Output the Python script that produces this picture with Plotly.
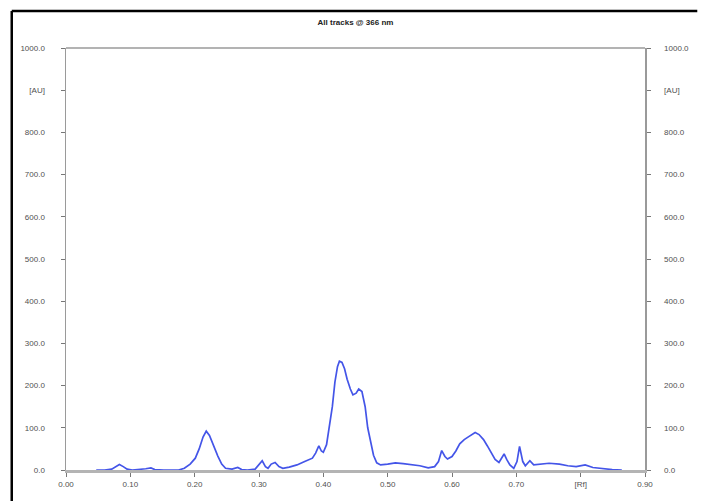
import plotly.graph_objects as go

# ---- data ----
rf = [0.047, 0.060, 0.071, 0.077, 0.083, 0.089, 0.095, 0.103, 0.113, 0.124, 0.132, 0.138,
      0.152, 0.175, 0.184, 0.193, 0.201, 0.207, 0.213, 0.218, 0.223, 0.230, 0.236, 0.242,
      0.248, 0.258, 0.267, 0.273, 0.282, 0.294, 0.300, 0.305, 0.310, 0.314, 0.319, 0.325,
      0.331, 0.337, 0.347, 0.359, 0.371, 0.383, 0.388, 0.393, 0.397, 0.400, 0.405, 0.409,
      0.414, 0.418, 0.422, 0.425, 0.429, 0.433, 0.437, 0.442, 0.446, 0.451, 0.455, 0.460,
      0.465, 0.469, 0.474, 0.478, 0.483, 0.489, 0.500, 0.512, 0.524, 0.537, 0.550, 0.563,
      0.573, 0.579, 0.584, 0.589, 0.593, 0.600, 0.606, 0.612, 0.619, 0.626, 0.632, 0.636,
      0.642, 0.649, 0.655, 0.661, 0.667, 0.673, 0.678, 0.681, 0.685, 0.690, 0.696, 0.701,
      0.705, 0.710, 0.714, 0.721, 0.727, 0.739, 0.751, 0.767, 0.780, 0.793, 0.807, 0.819,
      0.834, 0.849, 0.864]
au = [0, 0, 2, 8, 13, 8, 2, 0, 1, 3, 5, 1,
      0, 0, 4, 14, 28, 50, 78, 92, 82, 55, 33, 14,
      4, 2, 6, 1, 0, 2, 12, 22, 8, 4, 14, 18,
      8, 4, 7, 12, 20, 28, 40, 57, 45, 42, 60, 97,
      150, 208, 245, 258, 255, 240, 215, 192, 178, 182, 192, 186,
      150, 100, 60, 35, 17, 12, 14, 17, 15, 12, 10, 5,
      8, 20, 46, 32, 26, 32, 45, 62, 72, 79, 86, 89,
      84, 72, 57, 40, 25, 18, 30, 38, 25, 12, 4, 20,
      56, 20, 10, 22, 12, 14, 16, 14, 10, 8, 12, 6,
      3, 1, 0]

x_tickvals = [0.0, 0.1, 0.2, 0.3, 0.4, 0.5, 0.6, 0.7, 0.8, 0.9]
x_ticktext = ["0.00", "0.10", "0.20", "0.30", "0.40", "0.50", "0.60", "0.70", "[Rf]", "0.90"]
y_tickvals = [0, 100, 200, 300, 400, 500, 600, 700, 800, 900, 1000]
y_ticktext = ["0.0", "100.0", "200.0", "300.0", "400.0", "500.0", "600.0", "700.0",
              "800.0", "[AU]", "1000.0"]
title_text = "All tracks @ 366 nm"

# ---- layout geometry (pixels) ----
W, H = 701, 501
L, R, T, B = 66, 48, 48, 30
pw, ph = W - L - R, H - T - B

def px_x(p):
    return (p - L) / pw

def px_y(p):
    return (H - B - p) / ph

tick_font = dict(family="Arial, Liberation Sans, sans-serif", size=8, color="#505050")

fig = go.Figure()
fig.add_trace(go.Scatter(x=rf, y=au, mode="lines",
                         line=dict(color="#4455e8", width=1.7),
                         hoverinfo="skip", showlegend=False))
fig.add_trace(go.Scatter(x=rf, y=au, mode="lines", yaxis="y2",
                         line=dict(color="rgba(0,0,0,0)", width=0),
                         hoverinfo="skip", showlegend=False))

fig.update_layout(
    width=W, height=H,
    margin=dict(l=L, r=R, t=T, b=B, pad=0),
    paper_bgcolor="white", plot_bgcolor="white",
    title=dict(text=title_text, x=0.5, xref="paper", y=1 - 22 / H, yref="container",
               xanchor="center", yanchor="middle",
               font=dict(family="Arial, Liberation Sans, sans-serif", size=8,
                         color="#222222", weight="bold")),
    xaxis=dict(range=[0, 0.9], tickvals=x_tickvals, ticktext=x_ticktext,
               showgrid=False, zeroline=False, showline=True,
               linecolor="#b4b4b4", linewidth=3,
               ticks="outside", ticklen=4, tickcolor="#777777", tickwidth=1,
               tickfont=tick_font),
    yaxis=dict(range=[0, 1000], tickvals=y_tickvals, ticktext=y_ticktext,
               showgrid=False, zeroline=False, showline=True,
               linecolor="#9a9a9a", linewidth=1.5,
               ticks="outside", ticklen=4, tickcolor="#777777", tickwidth=1,
               tickfont=tick_font, ticklabelstandoff=14),
    yaxis2=dict(range=[0, 1000], tickvals=y_tickvals, ticktext=y_ticktext,
                overlaying="y", side="right",
                showgrid=False, zeroline=False, showline=True,
                linecolor="#9a9a9a", linewidth=1.5,
                ticks="outside", ticklen=4, tickcolor="#777777", tickwidth=1,
                tickfont=tick_font, ticklabelstandoff=12),
    shapes=[
        # top frame line of the plot area
        dict(type="line", xref="paper", yref="paper", x0=0, x1=1, y0=1, y1=1,
             line=dict(color="#9a9a9a", width=1.5)),
        # outer black border (left and top)
        dict(type="line", xref="paper", yref="paper",
             x0=px_x(11), x1=px_x(11), y0=px_y(11), y1=px_y(H + 5),
             line=dict(color="black", width=2.5)),
        dict(type="line", xref="paper", yref="paper",
             x0=px_x(11), x1=px_x(W + 5), y0=px_y(11), y1=px_y(11),
             line=dict(color="black", width=2.5)),
    ],
)

fig.write_html("out.html",
               config={"displayModeBar": False, "staticPlot": True},
               post_script="document.body.style.margin='0';document.body.style.overflow='hidden';")
